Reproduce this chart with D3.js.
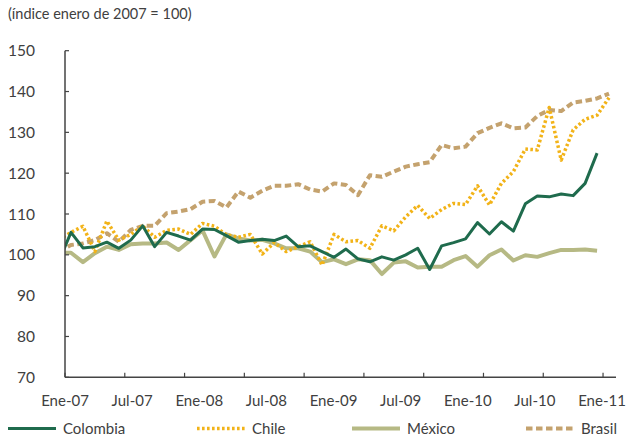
<!DOCTYPE html>
<html lang="es">
<head>
<meta charset="UTF-8">
<title>Índice enero de 2007 = 100</title>
<style>
    body { margin: 0; background: #fff; }
    text { font-family: Lato, "Open Sans", sans-serif; fill: #404040; }
    .axis path, .axis line { stroke: #444; }
</style>
</head>
<body>
<script src="https://d3js.org/d3.v7.min.js"></script>
<script>
// monthly series, index -1 .. 45 (first value sits just left of the axis and gets clipped)
const colombia = [98.5, 105.5, 101.7, 102.0, 103.1, 101.6, 103.6, 107.1, 102.0, 105.5, 104.6,
    103.6, 106.3, 106.2, 104.7, 103.1, 103.5, 103.8, 103.5, 104.6, 102.0, 102.2, 100.8, 99.4,
    101.4, 99.0, 98.3, 99.5, 98.7, 100.0, 101.6, 96.4, 102.2, 103.0, 103.9, 107.9, 105.1, 108.1,
    105.8, 112.5, 114.4, 114.2, 114.9, 114.5, 117.5, 124.9];
const chile = [103.7, 105.5, 107.0, 100.8, 108.3, 103.6, 105.0, 107.1, 104.3, 106.0, 106.3,
    105.0, 107.7, 107.0, 104.9, 104.3, 105.0, 100.2, 103.0, 100.8, 102.0, 103.2, 97.5, 105.0,
    103.2, 103.5, 101.6, 107.1, 105.9, 109.3, 112.1, 108.9, 111.1, 112.6, 112.3, 116.9, 112.2,
    117.5, 120.4, 125.9, 125.7, 136.1, 123.2, 130.6, 133.2, 134.2, 138.5];
const mexico = [100.5, 100.5, 98.2, 100.4, 102.0, 101.2, 102.6, 102.8, 102.8, 103.0, 101.2,
    103.6, 106.0, 99.6, 105.0, 104.0, 103.5, 103.7, 102.8, 101.6, 101.6, 100.8, 98.2, 98.9,
    97.7, 98.9, 98.7, 95.3, 98.1, 98.4, 96.9, 97.1, 97.1, 98.7, 99.7, 97.1, 99.9, 101.3, 98.6,
    99.9, 99.5, 100.4, 101.2, 101.2, 101.3, 101.0];
const brasil = [100.8, 102.4, 102.8, 103.6, 105.3, 103.2, 106.1, 107.1, 107.1, 110.2, 110.6,
    111.2, 113.0, 113.2, 111.6, 115.5, 114.0, 115.7, 116.9, 116.9, 117.3, 116.0, 115.5, 117.5,
    117.1, 114.6, 119.5, 119.1, 120.4, 121.6, 122.2, 122.7, 126.9, 126.1, 126.5, 129.8, 131.1,
    132.2, 131.0, 131.2, 134.0, 135.5, 135.2, 137.3, 137.7, 138.3, 139.5];

const seriesNames = ["Colombia", "Chile", "México", "Brasil"];
const xLabels = ["Ene-07", "Jul-07", "Ene-08", "Jul-08", "Ene-09", "Jul-09", "Ene-10", "Jul-10", "Ene-11"];
const yTicks = [70, 80, 90, 100, 110, 120, 130, 140, 150];
const nCategories = 46;

const width = 626, height = 438;
const margin = { left: 65, right: 615, top: 50.7, bottom: 377.3 };

const svg = d3.select("body").append("svg")
    .attr("width", width)
    .attr("height", height);

const x = d3.scaleLinear().domain([-0.5, nCategories - 0.5]).range([margin.left, margin.right]);
const y = d3.scaleLinear().domain([70, 150]).range([margin.bottom, margin.top]);

svg.append("text")
    .attr("x", 8).attr("y", 19)
    .style("font-size", "14.5px")
    .text("(índice enero de 2007 = 100)");

svg.append("defs").append("clipPath").attr("id", "plot")
    .append("rect")
    .attr("x", margin.left).attr("y", 0)
    .attr("width", margin.right - margin.left + 10).attr("height", height);

const styles = {
    "Colombia": { data: colombia, color: "#1f6b4d", w: 3, dash: null },
    "Chile": { data: chile, color: "#f2b318", w: 3.5, dash: "2.6,2.4" },
    "México": { data: mexico, color: "#b6b984", w: 4, dash: null },
    "Brasil": { data: brasil, color: "#c4a26e", w: 4, dash: "6.5,3.5" }
};

const line = d3.line()
    .x((d, i) => x(i - 1))
    .y(d => y(d));

const drawOrder = ["Brasil", "México", "Chile", "Colombia"];
const g = svg.append("g").attr("clip-path", "url(#plot)");
drawOrder.forEach(name => {
    const s = styles[name];
    g.append("path")
        .datum(s.data)
        .attr("fill", "none")
        .attr("stroke", s.color)
        .attr("stroke-width", s.w)
        .attr("stroke-dasharray", s.dash)
        .attr("stroke-linejoin", "round")
        .attr("d", line);
});

// y axis
const yAxis = svg.append("g").attr("class", "axis");
yAxis.append("line")
    .attr("x1", margin.left).attr("x2", margin.left)
    .attr("y1", y(150)).attr("y2", y(70))
    .attr("stroke-width", 1.5);
yAxis.selectAll(".yt").data(yTicks).enter().append("line")
    .attr("x1", margin.left).attr("x2", margin.left + 4)
    .attr("y1", d => y(d)).attr("y2", d => y(d))
    .attr("stroke-width", 1.2);
yAxis.selectAll(".yl").data(yTicks).enter().append("text")
    .attr("x", 35).attr("y", d => y(d))
    .attr("dy", "0.36em")
    .attr("text-anchor", "end")
    .style("font-size", "15.5px")
    .text(d => d);

// x axis
const xAxis = svg.append("g").attr("class", "axis");
xAxis.append("line")
    .attr("x1", margin.left).attr("x2", margin.right + 1)
    .attr("y1", margin.bottom).attr("y2", margin.bottom)
    .attr("stroke-width", 1.5);
const tickIdx = d3.range(0, nCategories, 5);
xAxis.selectAll(".xt").data(tickIdx).enter().append("line")
    .attr("x1", d => x(d - 0.5)).attr("x2", d => x(d - 0.5))
    .attr("y1", margin.bottom).attr("y2", margin.bottom - 4.5)
    .attr("stroke-width", 1.2);
const xl = d3.scalePoint().domain(xLabels).range([margin.left, 602]);
xAxis.selectAll(".xl").data(xLabels).enter().append("text")
    .attr("x", d => xl(d)).attr("y", 406)
    .attr("text-anchor", "middle")
    .style("font-size", "15px")
    .text(d => d);

// legend
const legendX = [8, 197, 352, 526];
const leg = svg.append("g");
seriesNames.forEach((name, i) => {
    const s = styles[name];
    leg.append("line")
        .attr("x1", legendX[i]).attr("x2", legendX[i] + 48)
        .attr("y1", 428.5).attr("y2", 428.5)
        .attr("stroke", s.color)
        .attr("stroke-width", name === "Colombia" ? 3 : s.w)
        .attr("stroke-dasharray", s.dash);
    leg.append("text")
        .attr("x", legendX[i] + 55).attr("y", 434)
        .style("font-size", "15px")
        .text(name);
});
</script>
</body>
</html>
